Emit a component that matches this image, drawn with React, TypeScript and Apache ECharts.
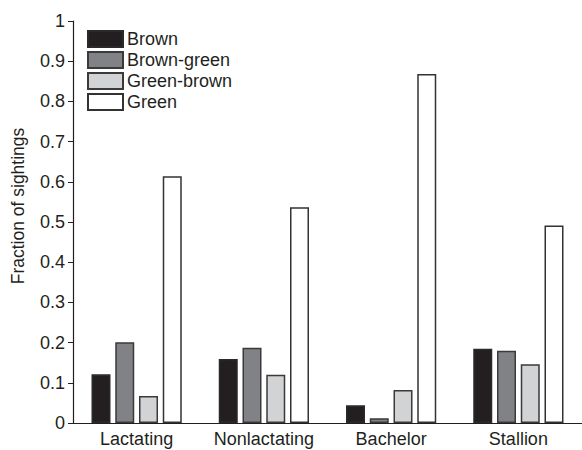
import React, { useEffect, useRef } from "react";
import * as echarts from "echarts";

const categories = ["Lactating", "Nonlactating", "Bachelor", "Stallion"];
const seriesNames = ["Brown", "Brown-green", "Green-brown", "Green"];
const brown = [0.121, 0.159, 0.044, 0.185];
const brownGreen = [0.201, 0.187, 0.012, 0.18];
const greenBrown = [0.067, 0.12, 0.082, 0.146];
const green = [0.614, 0.537, 0.868, 0.491];
const yTicks = [0, 0.1, 0.2, 0.3, 0.4, 0.5, 0.6, 0.7, 0.8, 0.9, 1];

const fills = ["#231f20", "#808285", "#d1d3d4", "#ffffff"];
const borders = ["#2a2a2a", "#3a3a3a", "#3a3a3a", "#333333"];

export default function App() {
  const ref = useRef<HTMLDivElement>(null);
  useEffect(() => {
    const chart = echarts.init(ref.current!, null, { renderer: "svg" });
    const font = "'Liberation Sans', Arial, sans-serif";
    const values = [brown, brownGreen, greenBrown, green];
    chart.setOption({
      animation: false,
      backgroundColor: "#ffffff",
      textStyle: { fontFamily: font },
      grid: { left: 73, right: -2, top: 21, height: 402 },
      legend: {
        orient: "vertical",
        left: 87,
        top: 30,
        padding: 0,
        itemWidth: 35,
        itemHeight: 16,
        itemGap: 3,
        icon: "rect",
        textStyle: { fontSize: 18, color: "#231f20", padding: [0, 0, 0, -1], fontFamily: font },
        data: seriesNames,
      },
      xAxis: {
        type: "category",
        data: categories,
        axisLine: { lineStyle: { color: "#231f20", width: 1.2 } },
        axisTick: { alignWithLabel: true, length: 5, lineStyle: { color: "#231f20" } },
        axisLabel: { interval: 0, fontSize: 18, color: "#231f20", margin: 7, fontFamily: font },
      },
      yAxis: {
        type: "value",
        min: 0,
        max: 1,
        interval: 0.1,
        splitLine: { show: false },
        axisLine: { show: true, lineStyle: { color: "#231f20", width: 1.2 } },
        axisTick: { show: true, length: 5, lineStyle: { color: "#231f20" } },
        axisLabel: {
          fontSize: 18,
          color: "#231f20",
          margin: 8,
          fontFamily: font,
          formatter: (v: number) => {
            const t = yTicks.find((x) => Math.abs(x - v) < 1e-6);
            return t === undefined ? "" : String(t);
          },
        },
      },
      graphic: [
        {
          type: "text",
          x: 18,
          y: 206,
          rotation: Math.PI / 2,
          style: {
            text: "Fraction of sightings",
            fontSize: 17.5,
            fill: "#231f20",
            fontFamily: font,
            align: "center",
            verticalAlign: "middle",
          },
        },
      ],
      series: seriesNames.map((name, i) => ({
        name,
        type: "bar",
        data: values[i],
        barWidth: 19,
        barGap: "25%",
        itemStyle: { color: fills[i], borderColor: borders[i], borderWidth: 1.5 },
      })),
    });
    return () => chart.dispose();
  }, []);
  return (
    <div
      ref={ref}
      style={{ position: "fixed", left: 0, top: 0, width: 582, height: 450 }}
    />
  );
}
